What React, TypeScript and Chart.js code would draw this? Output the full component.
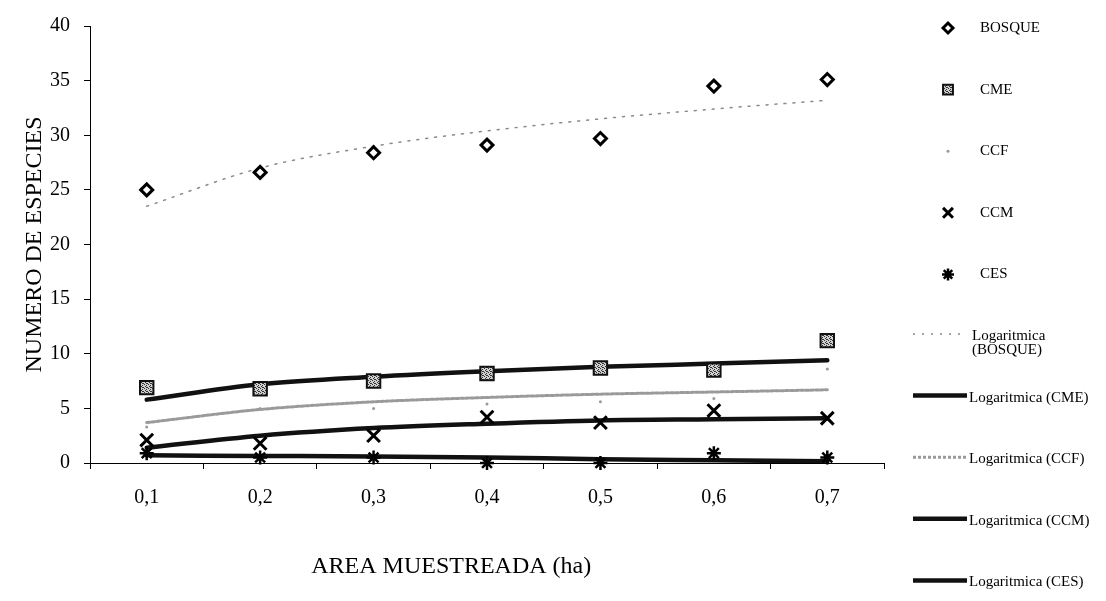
import React, { useEffect, useRef } from 'react';
import { Chart, registerables } from 'chart.js';
import { drawPoint } from 'chart.js/helpers';

Chart.register(...registerables);

// ---- data ----
const categories = ['0,1', '0,2', '0,3', '0,4', '0,5', '0,6', '0,7'];
const yTicks = [0, 5, 10, 15, 20, 25, 30, 35, 40];

const bosque = [25.0, 26.6, 28.4, 29.1, 29.7, 34.5, 35.1];
const cme = [6.9, 6.8, 7.5, 8.2, 8.7, 8.5, 11.2];
const ccf = [3.3, 5.0, 5.0, 5.4, 5.6, 5.9, 8.6];
const ccm = [2.1, 1.8, 2.5, 4.2, 3.7, 4.8, 4.1];
const ces = [0.9, 0.5, 0.5, 0.0, 0.0, 0.9, 0.5];

const trendBosque = [23.5, 27.0, 29.0, 30.4, 31.5, 32.4, 33.2];
const trendCme = [5.8, 7.2, 7.9, 8.4, 8.8, 9.1, 9.4];
const trendCcf = [3.7, 4.9, 5.6, 6.0, 6.3, 6.5, 6.7];
const trendCcm = [1.4, 2.5, 3.2, 3.6, 3.9, 4.0, 4.1];
const trendCes = [0.7, 0.65, 0.6, 0.5, 0.35, 0.25, 0.15];

const seriesNames = ['BOSQUE', 'CME', 'CCF', 'CCM', 'CES'];
const trendNames = [
  'Logaritmica (BOSQUE)',
  'Logaritmica (CME)',
  'Logaritmica (CCF)',
  'Logaritmica (CCM)',
  'Logaritmica (CES)',
];
const xTitle = 'AREA MUESTREADA (ha)';
const yTitle = 'NUMERO DE ESPECIES';

const SERIF = "'Liberation Serif', 'Times New Roman', serif";

function makePattern(): CanvasPattern | string {
  const c = document.createElement('canvas');
  c.width = 4;
  c.height = 4;
  const g = c.getContext('2d');
  if (!g) return '#888';
  g.fillStyle = '#d0d0d0';
  g.fillRect(0, 0, 4, 4);
  g.fillStyle = '#333';
  g.fillRect(0, 0, 1, 1);
  g.fillRect(2, 1, 1, 1);
  g.fillRect(1, 2, 1, 1);
  g.fillRect(3, 3, 1, 1);
  g.fillRect(2, 3, 1, 1);
  const p = g.createPattern(c, 'repeat');
  return p || '#888';
}

const sideLegend = {
  id: 'sideLegend',
  afterDraw(chart: any) {
    const { ctx, chartArea } = chart;
    const markerX = chartArea.right + 64;
    const textX = chartArea.right + 96;
    const lineX0 = chartArea.right + 29;
    const lineX1 = chartArea.right + 83;
    const trendTextX = chartArea.right + 85;
    const y0 = 28;
    const step = 61.6;
    ctx.save();
    ctx.font = `15px ${SERIF}`;
    ctx.textBaseline = 'middle';
    ctx.textAlign = 'left';
    chart.data.datasets.forEach((ds: any, i: number) => {
      const y = y0 + i * step;
      if (ds.showLine === false) {
        ctx.save();
        ctx.fillStyle = ds.pointBackgroundColor;
        ctx.strokeStyle = ds.pointBorderColor;
        ctx.lineWidth = ds.pointBorderWidth;
        drawPoint(ctx, {
          pointStyle: ds.pointStyle,
          rotation: 0,
          radius: ds.legendRadius,
          borderWidth: ds.pointBorderWidth,
        }, markerX, y);
        ctx.restore();
        ctx.fillStyle = '#000';
        ctx.fillText(ds.label, textX, y);
      } else {
        ctx.save();
        ctx.strokeStyle = ds.borderColor;
        ctx.lineWidth = ds.borderWidth;
        ctx.setLineDash(ds.borderDash || []);
        ctx.beginPath();
        ctx.moveTo(lineX0, y - 2);
        ctx.lineTo(lineX1, y - 2);
        ctx.stroke();
        ctx.restore();
        ctx.fillStyle = '#000';
        const label: string = ds.label;
        if (ctx.measureText(label).width > 130) {
          const k = label.indexOf(' ');
          ctx.fillText(label.slice(0, k), trendTextX + 3, y);
          ctx.fillText(label.slice(k + 1), trendTextX + 3, y + 14);
        } else {
          ctx.fillText(label, trendTextX, y);
        }
      }
    });

    // x-axis title (placed as in the original, slightly left of centre)
    const xs = chart.scales.x;
    ctx.font = `24px ${SERIF}`;
    ctx.textAlign = 'center';
    ctx.textBaseline = 'middle';
    ctx.fillStyle = '#000';
    ctx.fillText(xTitle, chartArea.left + (chartArea.right - chartArea.left) * 0.455, xs.bottom - 34);
    ctx.restore();
  },
};

export default function App() {
  const ref = useRef<HTMLCanvasElement>(null);

  useEffect(() => {
    document.body.style.margin = '0';
    const canvas = ref.current;
    if (!canvas) return;
    const pattern = makePattern();

    const markerDs = (label: string, data: number[], style: any) => ({
      type: 'line',
      label,
      data,
      showLine: false,
      clip: false,
      order: 0,
      pointStyle: style.pointStyle,
      pointRadius: style.radius,
      legendRadius: style.legendRadius ?? style.radius,
      pointBorderWidth: style.borderWidth,
      pointBorderColor: style.borderColor,
      pointBackgroundColor: style.backgroundColor,
      borderColor: style.borderColor,
      backgroundColor: style.backgroundColor,
    });

    const trendDs = (label: string, data: number[], style: any) => ({
      type: 'line',
      label,
      data,
      showLine: true,
      order: 1,
      pointRadius: 0,
      borderColor: style.color,
      borderWidth: style.width,
      borderDash: style.dash,
      borderCapStyle: 'round',
      cubicInterpolationMode: 'monotone',
      fill: false,
    });

    const chart = new Chart(canvas, {
      type: 'line',
      data: {
        labels: categories,
        datasets: [
          markerDs(seriesNames[0], bosque, { pointStyle: 'rectRot', radius: 6, borderWidth: 3, borderColor: '#000', backgroundColor: '#fff', legendRadius: 5 }),
          markerDs(seriesNames[1], cme, { pointStyle: 'rect', radius: 9.5, borderWidth: 2, borderColor: '#111', backgroundColor: pattern, legendRadius: 7 }),
          markerDs(seriesNames[2], ccf, { pointStyle: 'circle', radius: 1.5, borderWidth: 0, borderColor: '#999', backgroundColor: '#999' }),
          markerDs(seriesNames[3], ccm, { pointStyle: 'crossRot', radius: 9, borderWidth: 3, borderColor: '#000', backgroundColor: '#000', legendRadius: 7 }),
          markerDs(seriesNames[4], ces, { pointStyle: 'star', radius: 7, borderWidth: 2.5, borderColor: '#000', backgroundColor: '#000', legendRadius: 6 }),
          trendDs(trendNames[0], trendBosque, { color: '#8a8a8a', width: 1.5, dash: [2, 7] }),
          trendDs(trendNames[1], trendCme, { color: '#111', width: 4.5, dash: [] }),
          trendDs(trendNames[2], trendCcf, { color: '#9a9a9a', width: 3, dash: [3, 2] }),
          trendDs(trendNames[3], trendCcm, { color: '#111', width: 4.5, dash: [] }),
          trendDs(trendNames[4], trendCes, { color: '#111', width: 4.5, dash: [] }),
        ] as any,
      },
      options: {
        responsive: false,
        animation: false,
        devicePixelRatio: 1,
        layout: { padding: { top: 22, right: 222, left: 0, bottom: 0 } },
        plugins: {
          legend: { display: false },
          tooltip: { enabled: false },
        },
        scales: {
          x: {
            type: 'category',
            offset: true,
            grid: {
              display: true,
              drawOnChartArea: false,
              drawTicks: true,
              tickLength: 6,
              color: '#000',
              offset: true,
            },
            border: { display: true, color: '#000', width: 1 },
            ticks: {
              font: { family: SERIF, size: 20 },
              color: '#000',
              padding: 17,
              maxRotation: 0,
              autoSkip: false,
            },
            title: { display: false },
            afterFit: (s: any) => {
              s.height = 138;
            },
          },
          y: {
            min: yTicks[0],
            max: yTicks[yTicks.length - 1],
            afterBuildTicks: (s: any) => {
              s.ticks = yTicks.map((v) => ({ value: v }));
            },
            grid: {
              display: true,
              drawOnChartArea: false,
              drawTicks: true,
              tickLength: 6,
              color: '#000',
            },
            border: { display: true, color: '#000', width: 1 },
            ticks: {
              font: { family: SERIF, size: 20 },
              color: '#000',
              padding: 14,
            },
            title: {
              display: true,
              text: yTitle,
              font: { family: SERIF, size: 24 },
              color: '#000',
              padding: { top: 20, bottom: 0 },
            },
            afterFit: (s: any) => {
              s.width = 90;
            },
          },
        },
      } as any,
      plugins: [sideLegend],
    });

    return () => chart.destroy();
  }, []);

  return (
    <div style={{ width: 1106, height: 601, background: '#fff' }}>
      <canvas ref={ref} width={1106} height={601} style={{ display: 'block' }} />
    </div>
  );
}
